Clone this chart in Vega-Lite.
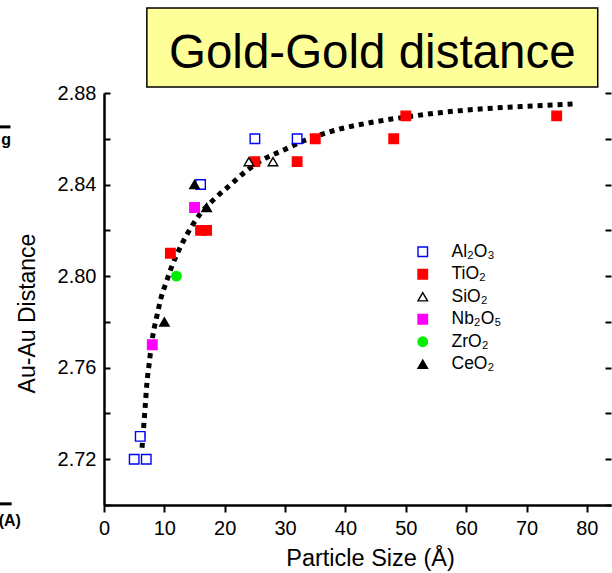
{
  "$schema": "https://vega.github.io/schema/vega-lite/v6.json",
  "width": 507,
  "height": 412,
  "autosize": {"type": "none"},
  "padding": {"left": 104, "top": 93, "right": 1, "bottom": 68},
  "background": "white",
  "config": {
    "view": {"stroke": null},
    "font": "Liberation Sans",
    "axis": {"grid": false, "domainColor": "black", "tickColor": "black", "labelColor": "black", "titleColor": "black", "labelFont": "Liberation Sans", "titleFont": "Liberation Sans", "titleFontWeight": "normal"}
  },
  "datasets": {
    "points": [
      {"size": 5, "distance": 2.72, "support": "Al₂O₃"},
      {"size": 7, "distance": 2.72, "support": "Al₂O₃"},
      {"size": 6, "distance": 2.73, "support": "Al₂O₃"},
      {"size": 16, "distance": 2.84, "support": "Al₂O₃"},
      {"size": 25, "distance": 2.86, "support": "Al₂O₃"},
      {"size": 32, "distance": 2.86, "support": "Al₂O₃"},
      {"size": 11, "distance": 2.81, "support": "TiO₂"},
      {"size": 16, "distance": 2.82, "support": "TiO₂"},
      {"size": 17, "distance": 2.82, "support": "TiO₂"},
      {"size": 25, "distance": 2.85, "support": "TiO₂"},
      {"size": 32, "distance": 2.85, "support": "TiO₂"},
      {"size": 35, "distance": 2.86, "support": "TiO₂"},
      {"size": 48, "distance": 2.86, "support": "TiO₂"},
      {"size": 50, "distance": 2.87, "support": "TiO₂"},
      {"size": 75, "distance": 2.87, "support": "TiO₂"},
      {"size": 24, "distance": 2.85, "support": "SiO₂"},
      {"size": 28, "distance": 2.85, "support": "SiO₂"},
      {"size": 8, "distance": 2.77, "support": "Nb₂O₅"},
      {"size": 15, "distance": 2.83, "support": "Nb₂O₅"},
      {"size": 12, "distance": 2.80, "support": "ZrO₂"},
      {"size": 10, "distance": 2.78, "support": "CeO₂"},
      {"size": 15, "distance": 2.84, "support": "CeO₂"},
      {"size": 17, "distance": 2.83, "support": "CeO₂"}
    ],
    "curve": [
      {"size": 6.3, "distance": 2.725},
      {"size": 6.6, "distance": 2.735},
      {"size": 6.85, "distance": 2.744},
      {"size": 7.1, "distance": 2.753},
      {"size": 7.5, "distance": 2.762},
      {"size": 7.85, "distance": 2.770},
      {"size": 8.3, "distance": 2.777},
      {"size": 8.8, "distance": 2.783},
      {"size": 9.4, "distance": 2.790},
      {"size": 10.4, "distance": 2.798},
      {"size": 11.2, "distance": 2.804},
      {"size": 12.9, "distance": 2.814},
      {"size": 15.9, "distance": 2.827},
      {"size": 18.4, "distance": 2.834},
      {"size": 21.0, "distance": 2.840},
      {"size": 23.6, "distance": 2.846},
      {"size": 26.4, "distance": 2.851},
      {"size": 29.7, "distance": 2.855},
      {"size": 33.0, "distance": 2.859},
      {"size": 38.0, "distance": 2.8635},
      {"size": 44.0, "distance": 2.867},
      {"size": 50.0, "distance": 2.8695},
      {"size": 56.0, "distance": 2.8715},
      {"size": 62.3, "distance": 2.873},
      {"size": 71.0, "distance": 2.8743},
      {"size": 78.0, "distance": 2.8752}
    ],
    "one": [{}]
  },
  "layer": [
    {
      "data": {"name": "curve"},
      "mark": {"type": "line", "color": "black", "strokeWidth": 5, "strokeDash": [5, 5], "strokeCap": "butt", "interpolate": "monotone"},
      "encoding": {
        "x": {
          "field": "size", "type": "quantitative",
          "scale": {"domain": [0, 84], "nice": false, "zero": false},
          "axis": {
            "orient": "bottom", "title": "Particle Size (Å)",
            "values": [0, 10, 20, 30, 40, 50, 60, 70, 80],
            "labelFontSize": 20, "labelPadding": 6, "labelFlush": false,
            "domainWidth": 2.5, "tickWidth": 2, "tickSize": 7,
            "titleFontSize": 23.5, "titleX": 266, "titleY": 60, "titleBaseline": "alphabetic"
          }
        },
        "y": {
          "field": "distance", "type": "quantitative",
          "scale": {"domain": [2.70, 2.88], "nice": false, "zero": false},
          "axis": {
            "orient": "left", "title": "Au-Au Distance",
            "values": [2.70, 2.72, 2.74, 2.76, 2.78, 2.80, 2.82, 2.84, 2.86, 2.88],
            "format": ".2f",
            "labelExpr": "round(datum.value * 100) % 4 === 0 ? datum.label : ''",
            "labelFontSize": 20, "labelPadding": 14, "labelFlush": false,
            "domainWidth": 2.5, "tickWidth": 2, "tickSize": -6,
            "titleFontSize": 23, "titleX": -70, "titleY": 220, "titleBaseline": "alphabetic", "titleAngle": -90
          }
        }
      }
    },
    {
      "data": {"name": "points"},
      "mark": {"type": "point", "strokeWidth": 1.4, "size": 90, "opacity": 1},
      "encoding": {
        "x": {"field": "size", "type": "quantitative", "axis": null},
        "y": {
          "field": "distance", "type": "quantitative",
          "axis": {
            "orient": "right", "title": null, "labels": false, "domain": false,
            "values": [2.70, 2.72, 2.74, 2.76, 2.78, 2.80, 2.82, 2.84, 2.86, 2.88],
            "tickWidth": 2, "tickSize": -6
          }
        },
        "shape": {
          "field": "support", "type": "nominal",
          "scale": {"domain": ["Al₂O₃", "TiO₂", "SiO₂", "Nb₂O₅", "ZrO₂", "CeO₂"], "range": ["square", "square", "triangle-up", "square", "circle", "triangle-up"]},
          "legend": {
            "title": null, "orient": "none", "legendX": 310, "legendY": 150,
            "labelFontSize": 17.5, "labelFont": "Liberation Sans", "labelColor": "black",
            "labelOffset": 20, "rowPadding": 3.5, "symbolSize": 90, "symbolStrokeWidth": 1.4, "padding": 0
          }
        },
        "fill": {
          "field": "support", "type": "nominal",
          "scale": {"domain": ["Al₂O₃", "TiO₂", "SiO₂", "Nb₂O₅", "ZrO₂", "CeO₂"], "range": ["white", "#FF0000", "white", "#FF00FF", "#00EE00", "black"]},
          "legend": {"title": null, "orient": "none", "legendX": 310, "legendY": 150}
        },
        "stroke": {
          "field": "support", "type": "nominal",
          "scale": {"domain": ["Al₂O₃", "TiO₂", "SiO₂", "Nb₂O₅", "ZrO₂", "CeO₂"], "range": ["#0000FF", "#FF0000", "black", "#FF00FF", "#00EE00", "black"]},
          "legend": {"title": null, "orient": "none", "legendX": 310, "legendY": 150}
        }
      }
    },
    {
      "data": {"name": "one"},
      "mark": {"type": "rect", "fill": "#FFFF99", "stroke": "black", "strokeWidth": 1.5, "clip": false},
      "encoding": {
        "x": {"datum": 7.1, "type": "quantitative", "axis": null},
        "x2": {"datum": 81.8},
        "y": {"datum": 2.9171, "type": "quantitative", "axis": null},
        "y2": {"datum": 2.8826}
      }
    },
    {
      "data": {"name": "one"},
      "mark": {"type": "text", "text": "Gold-Gold distance", "fontSize": 47.5, "font": "Liberation Sans", "color": "black", "align": "center", "baseline": "alphabetic", "clip": false},
      "encoding": {
        "x": {"datum": 44.45, "type": "quantitative", "axis": null},
        "y": {"datum": 2.8909, "type": "quantitative", "axis": null}
      }
    },
    {
      "data": {"name": "one"},
      "mark": {"type": "text", "text": "(A)", "fontSize": 16, "fontWeight": "bold", "font": "Liberation Sans", "color": "black", "align": "center", "baseline": "middle", "clip": false},
      "encoding": {
        "x": {"datum": -15.6, "type": "quantitative", "axis": null},
        "y": {"datum": 2.6930, "type": "quantitative", "axis": null}
      }
    },
    {
      "data": {"name": "one"},
      "mark": {"type": "text", "text": "g", "fontSize": 16, "fontWeight": "bold", "font": "Liberation Sans", "color": "black", "align": "center", "baseline": "middle", "clip": false},
      "encoding": {
        "x": {"datum": -16.2, "type": "quantitative", "axis": null},
        "y": {"datum": 2.8595, "type": "quantitative", "axis": null}
      }
    },
    {
      "data": {"name": "one"},
      "mark": {"type": "rule", "color": "black", "strokeWidth": 3, "clip": false},
      "encoding": {
        "x": {"datum": -17.3, "type": "quantitative", "axis": null},
        "x2": {"datum": -15.3},
        "y": {"datum": 2.7005, "type": "quantitative", "axis": null}
      }
    },
    {
      "data": {"name": "one"},
      "mark": {"type": "rule", "color": "black", "strokeWidth": 3, "clip": false},
      "encoding": {
        "x": {"datum": -17.3, "type": "quantitative", "axis": null},
        "x2": {"datum": -15.5},
        "y": {"datum": 2.8652, "type": "quantitative", "axis": null}
      }
    }
  ],
  "resolve": {"axis": {"x": "independent", "y": "independent"}}
}
